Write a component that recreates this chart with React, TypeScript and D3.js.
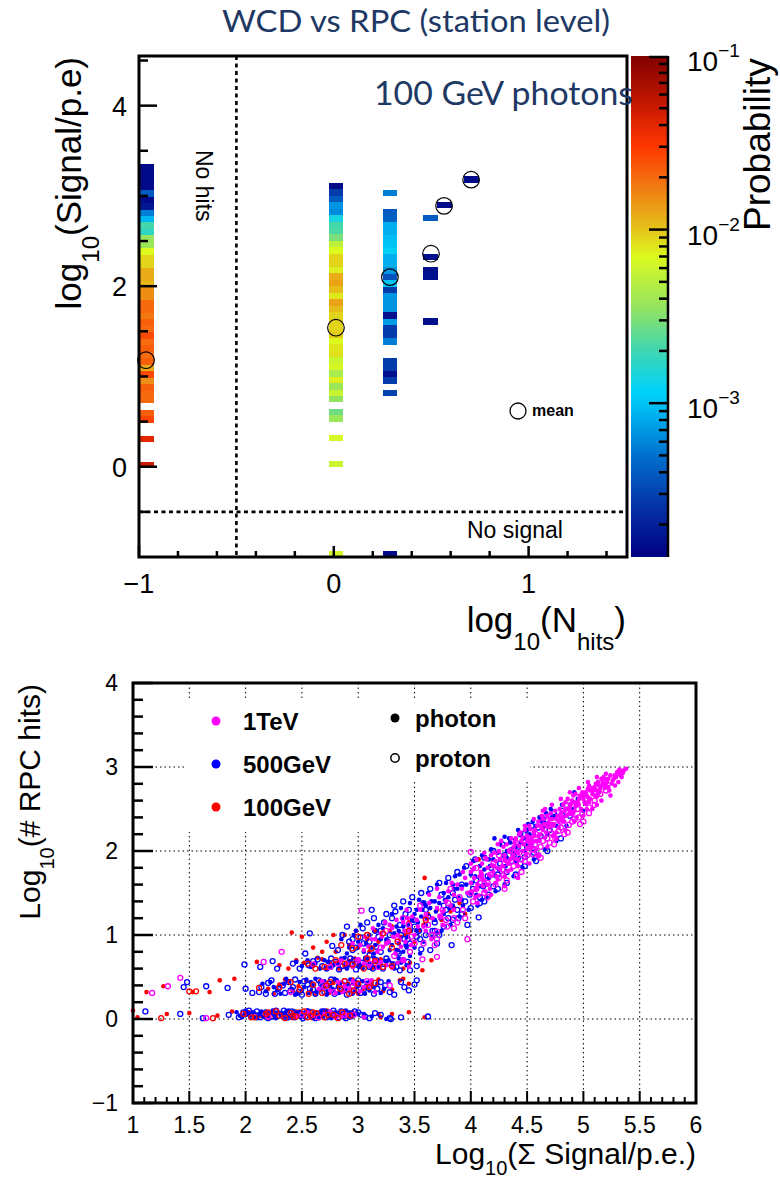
import React from "react";
import * as d3 from "d3";

// ================= TOP PANEL DATA (probability map) =================
const columnXs = [-0.962, 0.011, 0.288, 0.497, 0.568, 0.707];
const columnTops = [3.35, 3.146, 3.07, 2.79, 2.935, 3.22];
const colA = [1.5e-4, 1.5e-4, 1.5e-4, 1.5e-4, 4e-4, 1.5e-4, 1.8e-4, 5.6e-4, 9e-4, 2.1e-3, 1.75e-3, 3.6e-3, 3.8e-3, 7e-3, 9e-3, 9e-3, 1.2e-2, 1.2e-2, 1.1e-2, 1.5e-2, 1.5e-2, 2e-2, 2e-2, 1.8e-2, 2.2e-2, 2e-2, 2.6e-2, 2e-2, 2.2e-2, 2e-2, 2.2e-2, 1.2e-2, 2.6e-2, 1.5e-2, 2.2e-2, 2e-2, 2e-2, null, 2.2e-2, 2.7e-2, null, null, 4e-2, null, null, null, 5e-2];
const colB = [1.5e-4, 2.8e-4, 4e-4, 6.8e-4, 6.2e-4, 1.4e-3, 2.1e-3, 2.2e-3, 3e-3, 5.2e-3, 7e-3, 9e-3, 9e-3, 7.5e-3, 1.2e-2, 1.3e-2, 1.05e-2, 8e-3, 1.3e-2, 1.05e-2, 9e-3, 9e-3, 9e-3, 9.5e-3, 7e-3, 8e-3, 8.3e-3, 5.8e-3, 6.6e-3, 4.3e-3, 7.6e-3, 3.8e-3, 5.8e-3, 3.5e-3, null, 2.8e-3, 3.8e-3, null, null, 6.6e-3, null, null, null, 5.8e-3];
const colC = [5.6e-4, null, null, 4e-4, 4.2e-4, 8.3e-4, 8.3e-4, 9.5e-4, 1.0e-3, 1.2e-3, 8.3e-4, 8.3e-4, 6.8e-4, 3.7e-4, 1.0e-3, 2.8e-4, 6.8e-4, 6.8e-4, 6.8e-4, 1.6e-4, 7.3e-4, 2.8e-4, 2.8e-4, 5.6e-4, null, null, 2.8e-4, 2.8e-4, 1.6e-4, 2.8e-4, null, 3e-4];
const colD = [4e-4, null, null, null, null, null, 1.6e-4, null, 1.6e-4, 1.6e-4, null, null, null, null, null, null, 1.6e-4];
const colE = [1.5e-4];
const colF = [1.5e-4];
const columnProbs = [colA, colB, colC, colD, colE, colF];
const noSignalXs = [0.011, 0.288];
const noSignalProbs = [6.5e-3, 1.5e-4];
const noSignalTop = -0.934;
const meanXs = [-0.964, 0.011, 0.288, 0.499, 0.566, 0.705];
const meanYs = [1.18, 1.54, 2.1, 2.36, 2.89, 3.18];
const binWidth = 0.074;
const binHeight = 0.0716;
const probRange = [1.3e-4, 0.1];
const paletteStops = [0, 0.1, 0.2, 0.3, 0.33, 0.42, 0.5, 0.6, 0.66, 0.73, 0.82, 0.9, 1];
const paletteColors = ["rgb(0,0,130)", "rgb(5,50,165)", "rgb(0,110,205)", "rgb(0,190,245)", "rgb(0,210,250)", "rgb(70,215,170)", "rgb(150,228,95)", "rgb(220,250,30)", "rgb(230,190,25)", "rgb(240,130,20)", "rgb(255,55,0)", "rgb(200,25,0)", "rgb(130,0,0)"];
const topXTickLabels = ["\u22121", "0", "1"];
const topXMajor = [-1, 0, 1];
const topYTickLabels = ["0", "2", "4"];
const topYMajor = [0, 2, 4];
const cbarMajor = [1e-3, 1e-2, 1e-1];
const cbarExp = ["\u22123", "\u22122", "\u22121"];

// ================= BOTTOM PANEL DATA (scatter) =================
const tev1Photon = [[3.12,0.95],[3.2,1.02],[3.25,0.9],[3.3,1.08],[3.35,1.0],[3.4,1.15],[3.45,1.05],[3.48,1.22],[3.38,0.86],[3.28,1.12],
[3.52,1.18],[3.55,1.3],[3.58,1.1],[3.6,1.25],[3.63,1.38],[3.66,1.2],[3.7,1.32],[3.72,1.45],[3.75,1.28],[3.78,1.4],[3.8,1.52],[3.82,1.35],[3.85,1.48],[3.88,1.6],[3.9,1.42],[3.92,1.55],[3.95,1.68],[3.97,1.5],[3.6,1.05],[3.7,1.55],[3.85,1.3],[3.93,1.75],
[4.0,1.62],[4.02,1.78],[4.05,1.55],[4.08,1.7],[4.1,1.85],[4.12,1.65],[4.15,1.8],[4.18,1.95],[4.2,1.75],[4.22,1.88],[4.25,2.0],[4.28,1.82],[4.3,1.95],[4.32,2.08],[4.35,1.9],[4.38,2.05],[4.4,2.15],[4.42,1.98],[4.45,2.12],[4.48,2.25],[4.05,1.9],[4.15,1.6],[4.27,2.12],[4.36,1.78],[4.46,2.0],
[4.5,2.18],[4.52,2.3],[4.55,2.1],[4.57,2.25],[4.6,2.35],[4.62,2.2],[4.65,2.32],[4.68,2.42],[4.7,2.28],[4.72,2.38],[4.75,2.48],[4.78,2.35],[4.8,2.45],[4.82,2.55],[4.85,2.42],[4.88,2.52],[4.9,2.6],[4.92,2.48],[4.95,2.58],[4.97,2.66],[4.58,2.02],[4.66,2.5],[4.76,2.22],[4.86,2.62],[4.94,2.4],
[5.0,2.62],[5.02,2.7],[5.05,2.58],[5.08,2.68],[5.1,2.76],[5.12,2.65],[5.15,2.74],[5.17,2.82],[5.2,2.78],[5.22,2.86],[5.25,2.8],[5.28,2.9],[5.3,2.94],[5.33,2.9],[5.36,2.96],[5.05,2.78],[5.12,2.55],[5.18,2.88],
[4.03,1.68],[4.13,1.92],[4.23,1.7],[4.33,1.85],[4.43,2.2],[4.53,2.05],[4.63,2.42],[4.73,2.18],[4.83,2.35],[4.93,2.68],[5.03,2.5],[5.13,2.82],[5.23,2.72],[3.83,1.62],[3.73,1.22],[3.63,1.48],[3.53,1.1],[3.43,1.3],[3.65,0.95],[3.75,1.12],
[4.01,1.52],[4.03,1.8],[4.06,1.6],[4.07,1.47],[4.09,1.75],[4.11,1.58],[4.14,1.9],[4.16,1.72],[4.17,1.55],[4.19,1.83],[4.21,1.98],[4.23,1.8],[4.24,1.66],[4.26,1.9],[4.29,2.05],[4.31,1.88],[4.33,1.76],[4.34,2.0],[4.37,1.93],[4.39,2.1],[4.41,1.9],[4.43,2.06],[4.44,2.22],[4.47,2.08],[4.49,1.96],[4.51,2.14],[4.53,2.26],[4.54,2.04],[4.56,2.18],[4.59,2.3],[4.61,2.12],[4.63,2.27],[4.64,2.38],[4.67,2.22],[4.69,2.34],[4.71,2.45],[4.73,2.3],[4.74,2.2],[4.77,2.42],[4.79,2.5],[4.81,2.36],[4.83,2.47],[4.84,2.58],[4.87,2.44],[4.89,2.56],[4.91,2.66],[4.93,2.53],[4.96,2.62],[4.98,2.5],[4.99,2.7],[5.01,2.58],[5.03,2.66],[5.04,2.74],[5.06,2.62],[5.09,2.72],[5.11,2.8],[5.13,2.68],[5.14,2.78],[5.16,2.86],[5.19,2.75],[5.21,2.82],[5.24,2.9],[5.26,2.84],[5.29,2.88],[5.31,2.92],[5.34,2.94],
[4.0,1.75],[4.04,1.45],[4.1,1.68],[4.13,1.52],[4.18,1.7],[4.22,1.62],[4.26,1.78],[4.3,1.7],[4.34,1.85],[4.38,1.95],[4.42,1.82],[4.46,2.16],[4.5,2.02],[4.54,2.15],[4.58,2.12],[4.62,2.3],[4.66,2.16],[4.7,2.38],[4.74,2.32],[4.78,2.28],[4.82,2.4],[4.86,2.5],[4.9,2.45],[4.94,2.55],[4.98,2.65],[5.02,2.56],[5.06,2.72],[5.1,2.66],[5.14,2.7],[5.18,2.8],[5.22,2.76],[5.27,2.86],[5.32,2.97],[5.35,2.93],
[4.0,1.85],[4.06,1.38],[4.12,1.98],[4.18,1.48],[4.24,2.08],[4.3,1.58],[4.36,2.15],[4.42,1.68],[4.48,2.3],[4.52,1.85],[4.56,2.38],[4.6,1.95],[4.64,2.48],[4.68,2.05],[4.72,2.55],[4.76,2.15],[4.8,2.62],[4.84,2.25],[4.88,2.7],[4.92,2.35],[4.96,2.75],[5.0,2.42],[5.04,2.82],[5.08,2.5],[5.12,2.88],[5.16,2.6],[5.2,2.92],[5.24,2.66],[5.28,2.78],[5.31,2.82],[5.34,2.88],[5.38,2.98],
[4.52,2.1],[4.56,2.22],[4.6,2.18],[4.64,2.25],[4.68,2.3],[4.72,2.32],[4.76,2.38],[4.8,2.4],[4.84,2.5],[4.88,2.48],[4.92,2.58],[4.96,2.55],[5.0,2.68],[5.04,2.64],[5.08,2.75],[5.12,2.72],[5.16,2.78],[5.2,2.85],[4.1,1.72],[4.2,1.82],[4.3,1.9],[4.4,2.0],[4.5,2.12],
[3.02,0.88],[3.06,0.98],[3.09,0.86],[3.13,1.08],[3.17,0.8],[3.21,0.98],[3.24,1.15],[3.27,0.92],[3.31,0.98],[3.34,1.18],[3.37,0.95],[3.41,1.05],[3.44,1.2],[3.47,0.88],
[2.65,0.36],[2.72,0.42],[2.8,0.31],[2.88,0.39],[2.95,0.45],[3.02,0.33],[3.1,0.4],[2.75,0.34],[2.82,0.44],[2.86,0.32],[2.92,0.36],[2.98,0.42],[3.05,0.38],[3.12,0.46],[2.68,0.45],[3.15,0.32],
[2.9,0.66],[3.0,0.7],[3.1,0.63],[3.2,0.68],[3.3,0.61],[3.4,0.7],[2.95,0.62],[3.05,0.66],[3.15,0.7],[3.25,0.64],[3.35,0.67],[3.45,0.62],[2.85,0.7],
[2.95,0.9],[3.05,0.82],[3.15,0.95],[3.22,0.86],[3.33,0.78],[3.42,0.92],[3.5,1.0],[2.7,0.06],[2.85,0.03],[2.55,0.08],[2.6,0.04],[2.75,0.09],[2.9,0.05],[2.45,0.02],[3.05,0.02]];
const tev1Proton = [[1.17,0.31],[1.31,0.39],[1.42,0.49],[1.65,0.01],[2.16,0.68],[2.32,0.8],[2.5,0.05],[2.7,0.38],[2.85,0.42],[2.96,0.05],[3.03,1.29],[3.1,0.66],[3.2,0.85],[3.28,0.4],[3.35,0.95],[3.4,0.7],[3.45,1.12],[3.5,0.9],[3.57,0.71],[3.6,1.2],[3.65,1.0],[3.7,1.04],[3.7,0.74],[3.75,1.3],[3.79,1.1],[3.85,1.2],[3.9,1.45],[3.97,0.95],[4.0,1.99],[4.02,1.4],[4.08,1.62],[4.12,1.5],[4.18,1.72],[4.22,1.6],[4.29,1.71],[4.3,1.85],[4.35,2.0],[4.41,1.7],[4.45,1.9],[4.5,2.08],[4.55,1.96],[4.58,2.2],[4.62,2.05],[4.68,2.3],[4.72,2.21],[4.75,2.15],[4.8,2.35],[4.87,2.31],[4.9,2.45],[4.95,2.5],[4.99,2.44],[5.05,2.52],[5.1,2.6],[5.15,2.68],[5.2,2.72],[3.55,1.35],[3.82,1.55],[4.05,1.8],[4.25,1.95],[4.4,2.1],[4.65,2.4],[4.85,2.55],[3.4,1.2],[3.25,1.05],[3.0,0.7],[2.9,0.35],[2.75,0.62],[2.6,0.65],[2.4,0.32],[2.2,0.03],[2.8,0.03],
[4.05,1.55],[4.15,1.62],[4.2,1.85],[4.28,1.78],[4.32,1.65],[4.38,1.82],[4.43,1.98],[4.48,1.88],[4.52,2.15],[4.57,2.08],[4.6,1.95],[4.64,2.12],[4.7,2.1],[4.78,2.24],[4.83,2.2],[4.92,2.38],[4.97,2.32],[5.02,2.62],[3.62,1.12],[3.68,0.88],[3.73,1.22],[3.8,1.38],[3.88,1.15],[3.93,1.3],[3.47,0.98],[3.32,0.75],[3.18,0.62],[3.08,0.45],[2.95,0.38],[2.78,0.32],[2.82,0.66],[2.88,0.05],[2.65,0.02],
[4.5,1.95],[4.55,2.02],[4.62,1.92],[4.68,2.15],[4.74,2.08],[4.8,2.28],[4.86,2.22],[4.9,2.35],[4.96,2.4],[5.0,2.35],[5.05,2.45],[5.1,2.55],[4.25,1.68],[4.3,1.55],[4.15,1.45],[4.0,1.5],[3.95,1.2],[3.85,1.08],[3.78,1.18],[3.7,0.95],[3.58,0.9],[3.46,0.8],[4.4,1.88],[4.45,1.75]];
const gev500Photon = [[1.95,0.04],[2.02,0.07],[2.08,0.02],[2.12,0.06],[2.18,0.03],[2.22,0.08],[2.27,0.01],[2.31,0.05],[2.36,0.09],[2.4,0.03],[2.45,0.06],[2.49,0.02],[2.53,0.08],[2.57,0.04],[2.61,0.07],[2.65,0.01],[2.7,0.05],[2.74,0.09],[2.78,0.03],[2.83,0.06],[2.87,0.02],[2.92,0.08],[2.96,0.04],[3.05,0.06],[3.12,0.03],[3.25,0.0],
[1.92,0.08],[1.97,0.02],[2.0,0.1],[2.04,0.04],[2.07,0.08],[2.1,0.01],[2.14,0.09],[2.16,0.03],[2.2,0.06],[2.24,0.1],[2.26,0.04],[2.29,0.08],[2.33,0.02],[2.35,0.06],[2.38,0.1],[2.42,0.05],[2.44,0.01],[2.47,0.08],[2.51,0.04],[2.55,0.1],[2.59,0.02],[2.63,0.05],[2.67,0.09],[2.69,0.03],[2.72,0.06],[2.76,0.01],[2.8,0.08],[2.85,0.04],[2.89,0.1],[2.94,0.02],[2.99,0.06],
[2.15,0.42],[2.28,0.35],[2.38,0.45],[2.46,0.3],[2.52,0.38],[2.58,0.44],[2.63,0.32],[2.68,0.4],[2.72,0.29],[2.77,0.36],[2.81,0.46],[2.86,0.33],[2.9,0.41],[2.95,0.3],[2.99,0.38],[3.04,0.45],[3.1,0.34],[3.17,0.42],[3.23,0.36],
[2.18,0.33],[2.22,0.44],[2.25,0.38],[2.31,0.3],[2.34,0.42],[2.36,0.48],[2.41,0.36],[2.44,0.29],[2.48,0.44],[2.5,0.34],[2.54,0.47],[2.56,0.31],[2.6,0.4],[2.62,0.48],[2.66,0.35],[2.7,0.45],[2.73,0.33],[2.75,0.4],[2.79,0.48],[2.83,0.31],[2.84,0.43],[2.88,0.36],[2.93,0.47],[2.97,0.33],[3.01,0.4],[3.06,0.3],[3.08,0.43],[3.13,0.38],[3.2,0.31],[3.27,0.45],
[2.45,0.68],[2.58,0.62],[2.7,0.7],[2.78,0.64],[2.85,0.72],[2.9,0.6],[2.96,0.67],[3.02,0.63],[3.07,0.71],[3.12,0.66],[3.18,0.61],[3.24,0.69],[3.3,0.65],[3.36,0.72],
[2.5,0.63],[2.55,0.7],[2.62,0.66],[2.66,0.6],[2.73,0.68],[2.76,0.61],[2.82,0.66],[2.88,0.73],[2.92,0.64],[2.99,0.7],[3.04,0.6],[3.09,0.65],[3.14,0.73],[3.2,0.65],[3.27,0.7],[3.32,0.6],[3.38,0.67],[3.43,0.64],
[2.92,0.85],[3.0,0.92],[3.05,0.8],[3.1,1.0],[3.15,0.88],[3.2,0.95],[3.22,1.08],[3.28,0.82],[3.32,1.02],[3.36,0.9],[3.4,1.1],[3.44,0.98],[3.48,1.18],[2.98,1.05],[3.14,0.78],
[2.85,0.95],[2.9,0.78],[2.96,1.0],[3.02,1.12],[3.07,0.9],[3.12,0.85],[3.18,1.12],[3.25,0.95],[3.3,0.88],[3.34,1.1],[3.39,1.2],[3.43,0.85],[3.47,1.05],[3.5,1.25],
[3.52,1.05],[3.56,1.22],[3.6,1.12],[3.64,1.32],[3.68,1.18],[3.72,1.38],[3.76,1.25],[3.8,1.45],[3.84,1.35],[3.88,1.55],[3.92,1.42],[3.96,1.6],[4.0,1.5],[4.04,1.7],[4.08,1.58],[4.12,1.78],[4.16,1.68],[4.2,1.9],[4.21,2.15],[4.25,1.78],[4.3,2.17],[4.32,1.92],[4.36,2.02],[4.4,1.88],[4.44,2.1],[4.48,2.0],[4.52,2.2],[4.55,2.35],[4.6,2.12],[4.64,2.28],[4.68,2.2],[4.72,2.4],[4.76,2.3],[4.81,2.55],[4.84,2.42],[4.9,2.5],[4.95,2.62],[3.7,1.02],[3.9,1.72],[4.1,1.42],[3.58,1.38],
[3.53,1.15],[3.57,1.3],[3.61,1.2],[3.65,1.4],[3.69,1.28],[3.73,1.2],[3.77,1.42],[3.81,1.32],[3.85,1.55],[3.89,1.45],[3.93,1.35],[3.97,1.5],[4.01,1.62],[4.05,1.48],[4.09,1.75],[4.13,1.6],[4.17,1.82],[4.22,1.7],[4.26,1.9],[4.31,1.82],[4.35,2.1],[4.39,1.98],[4.43,1.92],[4.47,2.15],[4.5,2.25],[4.54,2.08],[4.58,2.3],[4.63,2.35],[4.67,2.45],[4.75,2.42],[4.8,2.38],[4.88,2.55],
[3.3,1.25],[3.34,0.82],[3.38,1.32],[3.42,0.88],[3.46,1.38],[3.5,0.85],[3.54,1.42],[3.58,0.92],[3.62,1.5],[3.66,0.98],[3.7,1.6],[3.74,1.05],[3.78,1.62],[3.82,1.12],[3.86,1.7],[3.9,1.22],[3.94,1.8],[3.98,1.3],[4.02,1.88],[4.06,1.35],[4.1,1.95],[4.14,1.45],[4.18,2.02],[4.22,1.52],[4.26,2.08],[4.3,1.6],[4.34,2.15],[4.38,1.7],[4.42,2.25],[4.46,1.8],[4.51,2.32],[4.56,1.9],[4.61,2.4],[4.66,2.02],[4.71,2.5],[4.76,2.12],[4.85,2.3],[4.92,2.7],[5.0,2.48],
[3.36,1.05],[3.44,1.12],[3.52,1.3],[3.6,1.35],[3.68,1.4],[3.76,1.5],[3.84,1.6],[3.92,1.58],[4.0,1.72],[4.08,1.82],[4.16,1.9],[4.24,1.98],[4.32,2.0],[4.4,2.05],[4.48,2.08],[4.56,2.2],[3.4,0.8],[3.46,0.75],[3.55,0.78]];
const gev500Proton = [[1.11,0.09],[1.42,0.06],[1.62,0.01],[1.85,0.05],[1.98,0.08],[2.05,0.03],[2.1,0.09],[2.16,0.05],[2.2,0.01],[2.25,0.07],[2.29,0.04],[2.34,0.1],[2.38,0.02],[2.43,0.08],[2.47,0.05],[2.51,0.01],[2.55,0.09],[2.6,0.03],[2.64,0.06],[2.68,0.09],[2.72,0.02],[2.76,0.07],[2.8,0.04],[2.85,0.09],[2.89,0.01],[2.94,0.06],[3.0,0.08],[3.06,0.03],[3.15,0.07],[3.28,0.01],
[1.94,0.02],[2.0,0.06],[2.03,0.1],[2.08,0.05],[2.13,0.02],[2.18,0.08],[2.23,0.03],[2.27,0.1],[2.32,0.06],[2.36,0.02],[2.41,0.09],[2.45,0.04],[2.49,0.07],[2.53,0.03],[2.58,0.08],[2.62,0.01],[2.66,0.05],[2.7,0.09],[2.74,0.04],[2.78,0.1],[2.83,0.02],[2.87,0.06],[2.92,0.03],[2.97,0.09],[3.03,0.05],[3.1,0.01],[3.2,0.05],[3.38,0.02],[3.62,0.03],
[1.45,0.38],[1.48,0.44],[1.65,0.39],[1.84,0.37],[2.0,0.36],[2.06,0.31],[2.12,0.32],[2.2,0.43],[2.26,0.3],[2.33,0.4],[2.4,0.34],[2.44,0.47],[2.5,0.29],[2.55,0.41],[2.6,0.35],[2.65,0.46],[2.7,0.32],[2.74,0.42],[2.79,0.3],[2.83,0.39],[2.88,0.45],[2.92,0.35],[2.97,0.43],[3.02,0.31],[3.08,0.4],[3.14,0.3],[3.2,0.44],[3.32,0.29],[3.5,0.41],
[2.14,0.38],[2.18,0.3],[2.23,0.46],[2.29,0.36],[2.35,0.31],[2.38,0.44],[2.42,0.38],[2.47,0.32],[2.52,0.45],[2.57,0.36],[2.62,0.3],[2.67,0.42],[2.72,0.37],[2.76,0.47],[2.81,0.34],[2.86,0.41],[2.9,0.29],[2.95,0.39],[3.0,0.46],[3.05,0.35],[3.11,0.44],[3.17,0.36],[3.24,0.4],[3.28,0.32],[3.38,0.44],[3.45,0.34],
[1.99,0.65],[2.13,0.62],[2.24,0.69],[2.28,0.6],[2.56,0.64],[2.64,0.71],[2.72,0.6],[2.8,0.68],[2.86,0.63],[2.93,0.72],[2.98,0.59],[3.04,0.67],[3.1,0.62],[3.16,0.7],[3.22,0.6],[3.28,0.66],[3.34,0.62],[3.4,0.7],[3.46,0.58],
[2.42,0.66],[2.48,0.6],[2.6,0.69],[2.68,0.63],[2.76,0.72],[2.83,0.59],[2.9,0.66],[2.96,0.7],[3.01,0.63],[3.07,0.72],[3.13,0.6],[3.19,0.66],[3.25,0.72],[3.31,0.65],[3.37,0.58],[3.44,0.68],[3.52,0.63],
[2.57,1.02],[2.53,0.78],[2.77,0.87],[2.9,1.1],[2.95,0.82],[3.02,0.97],[3.08,1.15],[3.12,1.3],[3.16,0.86],[3.2,1.05],[3.26,0.92],[3.3,1.2],[3.35,0.8],[3.38,1.0],[3.42,1.25],[3.46,0.9],[3.5,1.1],[3.55,0.95],[3.6,1.3],[3.64,0.82],[3.52,0.46],[3.41,0.38],[3.68,1.15],[3.72,1.0],[3.76,1.35],[3.8,1.2],[3.84,1.5],[3.88,1.3],[3.95,1.4],[4.02,1.55],[4.08,1.45],[4.15,1.7],[4.2,1.58],[4.26,1.85],[4.32,1.75],[4.38,1.95],[4.44,1.85],[4.5,2.05],[4.56,1.98],[4.62,2.18],[4.7,2.25],[4.78,2.38],[3.7,0.9],[3.83,0.88],[3.97,1.12],[3.56,0.83],[4.07,1.21],[4.12,1.4],[3.89,1.2],[4.48,1.93],[3.29,0.0],
[2.82,0.82],[2.86,1.0],[2.92,0.92],[2.98,0.85],[3.04,1.08],[3.1,0.92],[3.14,1.2],[3.18,0.98],[3.23,1.15],[3.28,1.0],[3.33,1.28],[3.37,1.12],[3.41,0.95],[3.45,1.3],[3.49,1.18],[3.54,1.05],[3.58,1.38],[3.62,1.22],[3.66,1.05],[3.74,1.48],[3.78,1.3],[3.86,1.42],[3.92,1.6],[3.99,1.48],[4.05,1.65],[4.11,1.58],[4.18,1.8],[4.24,1.72],[4.3,1.95],[4.36,1.88],[4.42,2.05],[4.47,2.2],[4.53,2.12],[4.6,2.28],[4.66,2.32],[4.74,2.46],[4.82,2.48],
[3.32,1.35],[3.36,0.78],[3.4,1.4],[3.44,0.95],[3.48,1.45],[3.52,0.98],[3.56,1.5],[3.6,1.0],[3.64,1.55],[3.68,1.05],[3.72,1.62],[3.76,1.1],[3.8,1.68],[3.84,1.18],[3.88,1.75],[3.92,1.25],[3.96,1.82],[4.0,1.32],[4.04,1.9],[4.08,1.38],[4.12,1.92],[4.16,1.48],[4.2,2.0],[4.24,1.55],[4.28,2.08],[4.32,1.62],[4.36,2.12],[4.4,1.72],[4.44,2.2],[4.48,1.82],[4.54,2.3],[4.58,1.88],[4.64,2.38],[4.68,2.0],[4.8,2.15],[4.88,2.42],[3.25,1.25],[3.15,1.05],[3.05,0.9],[2.95,0.95],[3.1,0.76],[3.2,0.8]];
const gev100Photon = [[1.0,0.1],[1.04,0.02],[1.12,0.32],[1.27,0.39],[1.3,0.06],[1.5,0.07],[1.53,0.32],[1.68,0.32],[1.77,0.46],[1.9,0.48],[1.75,0.04],[1.88,0.09],[2.1,0.68],[2.41,1.03],[2.5,0.98],[3.46,0.67],[3.4,0.48],[3.59,0.02],[3.18,0.06],[3.2,0.02],[3.59,1.68],[4.07,1.9],[3.37,0.46],
[2.0,0.05],[2.1,0.02],[2.18,0.08],[2.25,0.04],[2.33,0.06],[2.42,0.01],[2.48,0.09],[2.56,0.05],[2.62,0.02],[2.69,0.08],[2.75,0.04],[2.82,0.07],[2.9,0.03],
[2.03,0.08],[2.13,0.04],[2.21,0.01],[2.28,0.07],[2.36,0.03],[2.45,0.09],[2.52,0.04],[2.59,0.01],[2.66,0.06],[2.72,0.1],[2.79,0.02],[2.86,0.05],[2.95,0.08],[3.05,0.04],[3.3,0.06],[3.45,0.08],
[2.2,0.36],[2.3,0.41],[2.42,0.33],[2.54,0.45],[2.62,0.3],[2.7,0.38],[2.78,0.43],[2.87,0.34],[2.95,0.47],[3.05,0.36],[3.12,0.44],[3.22,0.33],
[2.25,0.3],[2.35,0.47],[2.47,0.39],[2.58,0.33],[2.66,0.45],[2.74,0.31],[2.82,0.38],[2.91,0.42],[3.0,0.3],[3.08,0.38],[3.18,0.47],[3.3,0.35],[3.45,0.42],
[2.3,0.64],[2.45,0.7],[2.6,0.63],[2.68,0.71],[2.75,0.66],[2.83,0.6],[2.92,0.69],[3.0,0.64],[3.08,0.72],[3.15,0.62],[3.25,0.68],
[2.38,0.6],[2.52,0.67],[2.64,0.73],[2.72,0.6],[2.8,0.67],[2.88,0.62],[2.97,0.72],[3.05,0.66],[3.12,0.6],[3.2,0.71],[3.3,0.66],[3.4,0.6],
[2.6,0.85],[2.72,0.92],[2.8,0.8],[2.88,1.0],[3.0,0.85],[3.08,0.95],[3.15,1.05],[3.25,0.9],[3.3,1.1],[3.38,0.98],[3.45,1.15],[3.55,1.05],[3.62,1.25],[3.7,1.3],[3.78,1.4],[3.85,1.32],[3.65,0.7],[3.57,0.58],
[2.68,0.8],[2.78,1.0],[2.92,0.88],[2.98,1.05],[3.1,0.8],[3.18,0.92],[3.28,1.05],[3.35,0.82],[3.42,1.0],[3.5,0.92],[3.58,1.12],[3.66,1.2],[3.74,1.18],[3.82,1.28],[3.9,1.38],[3.95,1.25]];
const gev100Proton = [[1.25,0.01],[1.5,0.33],[1.56,0.33],[1.71,0.01],[1.98,0.06],[2.05,0.02],[2.12,0.37],[2.2,0.08],[2.3,0.04],[2.35,0.01],[2.4,0.07],[2.45,0.03],[2.48,0.35],[2.52,0.09],[2.58,0.04],[2.63,0.07],[2.7,0.02],[2.78,0.05],[2.86,0.08],[2.6,0.41],[2.68,0.31],[2.75,0.44],[2.84,0.36],[2.92,0.3],[3.0,0.42],[3.1,0.38],[2.55,0.66],[2.7,0.62],[2.8,0.7],[2.95,0.65],[3.05,0.6],[3.15,0.69],[3.3,0.63],[2.85,0.88],[3.0,0.98],[3.12,0.84],[3.22,1.02],[3.35,0.92],[3.45,1.05],[3.6,1.18],
[2.08,0.02],[2.18,0.06],[2.27,0.09],[2.42,0.04],[2.55,0.02],[2.6,0.08],[2.73,0.05],[2.82,0.01],[2.93,0.04],[2.3,0.38],[2.4,0.44],[2.56,0.3],[2.72,0.4],[2.88,0.45],[2.96,0.34],[3.15,0.43],[2.62,0.6],[2.88,0.66],[3.08,0.72],[3.22,0.62],[2.95,0.84],[3.08,1.0],[3.3,0.85]];
const energyLabels = ["1TeV", "500GeV", "100GeV"];
const energyColors = ["#ff00ff", "#0000ff", "#ff0000"];
const bottomXTickLabels = ["1", "1.5", "2", "2.5", "3", "3.5", "4", "4.5", "5", "5.5", "6"];
const bottomYTickLabels = ["\u22121", "0", "1", "2", "3", "4"];

const FONT = "'Liberation Sans', Arial, Helvetica, sans-serif";
const TITLE_FONT = "Lato, 'Open Sans', sans-serif";
const TITLE_COLOR = "#203864";

export default function App() {
  const tx = d3.scaleLinear().domain([-1, 1.5]).range([139, 626]);
  const ty = d3.scaleLinear().domain([-1, 4.55]).range([557, 56]);
  const pNorm = d3.scaleLog().domain(probRange).range([0, 1]).clamp(true);
  const palette = d3.scaleLinear<string>().domain(paletteStops).range(paletteColors).interpolate(d3.interpolateRgb);
  const colorOf = (p: number) => palette(pNorm(p));
  const cbY = d3.scaleLog().domain(probRange).range([557, 56]);

  const cells: any[] = [];
  columnProbs.forEach((probs, ci) => {
    const cx = columnXs[ci];
    probs.forEach((p, k) => {
      if (p == null) return;
      const yTop = Math.round(ty(columnTops[ci] - k * binHeight));
      const yBot = Math.round(ty(columnTops[ci] - (k + 1) * binHeight));
      cells.push({ x: tx(cx - binWidth / 2), w: tx(cx + binWidth / 2) - tx(cx - binWidth / 2), y: yTop, h: yBot - yTop, c: colorOf(p) });
    });
  });
  noSignalXs.forEach((cx, i) => {
    const yTop = Math.round(ty(noSignalTop));
    cells.push({ x: tx(cx - binWidth / 2), w: tx(cx + binWidth / 2) - tx(cx - binWidth / 2), y: yTop, h: Math.round(ty(-1)) - yTop, c: colorOf(noSignalProbs[i]) });
  });

  const topXTicks = d3.range(0, 13).map((i) => -1 + i * 0.2);
  const topYTicks = d3.range(0, 11).map((i) => -0.5 + i * 0.5);
  const cbMinor: number[] = [];
  [1e-4, 1e-3, 1e-2].forEach((dec) => {
    for (let m = 2; m <= 9; m++) {
      const v = dec * m;
      if (v >= probRange[0] && v <= probRange[1]) cbMinor.push(v);
    }
  });

  const bx = d3.scaleLinear().domain([1, 6]).range([133, 696]);
  const by = d3.scaleLinear().domain([-1, 4]).range([1103, 683]);
  const bxMinor = d3.range(0, 51).map((i) => 1 + i * 0.1);
  const byMinor = d3.range(0, 26).map((i) => -1 + i * 0.2);
  const gridX = d3.range(1, 10).map((i) => 1 + i * 0.5);
  const gridY = [0, 1, 2, 3];

  // draw order: 100 GeV photons underneath, 500 GeV, 1 TeV, then 100 GeV protons on top
  const series = [
    { pts: gev100Photon, color: energyColors[2], filled: true },
    { pts: gev500Photon, color: energyColors[1], filled: true },
    { pts: gev500Proton, color: energyColors[1], filled: false },
    { pts: tev1Photon, color: energyColors[0], filled: true },
    { pts: tev1Proton, color: energyColors[0], filled: false },
    { pts: gev100Proton, color: energyColors[2], filled: false },
  ];

  return (
    <svg width={780} height={1179} style={{ position: "absolute", left: 0, top: 0, background: "#fff" }} fontFamily={FONT}>
      <defs>
        <linearGradient id="cbar" x1="0" y1="1" x2="0" y2="0">
          {paletteStops.map((s, i) => (
            <stop key={i} offset={s} stopColor={paletteColors[i]} />
          ))}
        </linearGradient>
      </defs>
      <rect x={0} y={0} width={780} height={1179} fill="#fff" />

      {/* ================= TOP PANEL ================= */}
      <text x={222} y={32} fontFamily={TITLE_FONT} fontSize={31} fill={TITLE_COLOR} textLength={388} lengthAdjust="spacingAndGlyphs">WCD vs RPC (station level)</text>

      {cells.map((c, i) => (
        <rect key={i} x={c.x} y={c.y} width={c.w} height={c.h} fill={c.c} shapeRendering="crispEdges" />
      ))}

      <line x1={tx(-0.5)} x2={tx(-0.5)} y1={ty(4.55)} y2={ty(-1)} stroke="#000" strokeWidth={2.6} strokeDasharray="4,3.5" />
      <line x1={tx(-1)} x2={tx(1.5)} y1={ty(-0.5)} y2={ty(-0.5)} stroke="#000" strokeWidth={2.6} strokeDasharray="4,3.5" />

      {meanXs.map((mx, i) => (
        <circle key={i} cx={tx(mx)} cy={ty(meanYs[i])} r={8.3} fill="none" stroke="#000" strokeWidth={1.2} />
      ))}

      <rect x={139} y={56} width={488} height={501} fill="none" stroke="#000" strokeWidth={3} />
      {topYTicks.map((v, i) => {
        const major = topYMajor.includes(Math.round(v * 10) / 10);
        return <line key={i} x1={139} x2={139 + (major ? 18 : 9)} y1={ty(v)} y2={ty(v)} stroke="#000" strokeWidth={2.5} />;
      })}
      {topXTicks.map((v, i) => {
        const major = topXMajor.includes(Math.round(v * 10) / 10);
        return <line key={i} x1={tx(v)} x2={tx(v)} y1={557} y2={557 - (major ? 11 : 6)} stroke="#000" strokeWidth={2.5} />;
      })}
      {topYMajor.map((v, i) => (
        <text key={i} x={127} y={ty(v) + 10} fontSize={27} textAnchor="end">{topYTickLabels[i]}</text>
      ))}
      {topXMajor.map((v, i) => (
        <text key={i} x={tx(v)} y={593} fontSize={27} textAnchor="middle">{topXTickLabels[i]}</text>
      ))}

      <text transform={`translate(81,57) rotate(-90)`} fontSize={35} textAnchor="end">
        log<tspan fontSize={24} dy={18}>10</tspan><tspan dy={-18}>(Signal/p.e)</tspan>
      </text>
      <text x={626} y={632} fontSize={35} textAnchor="end">
        log<tspan fontSize={24} dy={18}>10</tspan><tspan dy={-18}>(N</tspan><tspan fontSize={24} dy={18}>hits</tspan><tspan dy={-18}>)</tspan>
      </text>

      <text transform={`translate(196,150) rotate(90)`} fontSize={23}>No hits</text>
      <text x={467} y={538} fontSize={23}>No signal</text>

      <circle cx={518} cy={411} r={8} fill="none" stroke="#000" strokeWidth={1.3} />
      <text x={532} y={416} fontSize={16} fontWeight="bold">mean</text>

      <rect x={631} y={56} width={37} height={501} fill="url(#cbar)" />
      <line x1={668} x2={668} y1={56} y2={557} stroke="#000" strokeWidth={2.5} />
      {cbMinor.map((v, i) => (
        <line key={i} x1={668} x2={659} y1={cbY(v)} y2={cbY(v)} stroke="#000" strokeWidth={2.5} />
      ))}
      {cbarMajor.map((v, i) => (
        <g key={i}>
          <line x1={668} x2={649} y1={Math.max(cbY(v), 57)} y2={Math.max(cbY(v), 57)} stroke="#000" strokeWidth={2.5} />
          <text x={687} y={Math.max(cbY(v), 56) + 15} fontSize={28}>
            10<tspan fontSize={19} dy={-14}>{cbarExp[i]}</tspan>
          </text>
        </g>
      ))}
      <text transform={`translate(770,231) rotate(-90)`} fontSize={37}>Probability</text>

      <text x={374} y={105} fontFamily={TITLE_FONT} fontSize={32} fill={TITLE_COLOR} textLength={259} lengthAdjust="spacingAndGlyphs">100 GeV photons</text>

      {/* ================= BOTTOM PANEL ================= */}
      {gridX.map((v, i) => (
        <line key={i} x1={bx(v)} x2={bx(v)} y1={683} y2={1103} stroke="#000" strokeWidth={1} strokeDasharray="1.5,3" />
      ))}
      {gridY.map((v, i) => (
        <line key={i} x1={133} x2={696} y1={by(v)} y2={by(v)} stroke="#000" strokeWidth={1} strokeDasharray="1.5,3" />
      ))}
      <rect x={187} y={698} width={177} height={134} fill="#fff" />
      <rect x={364} y={698} width={166} height={84} fill="#fff" />

      {series.map((s, si) => (
        <g key={si}>
          {s.pts.map((p, i) =>
            s.filled ? (
              <circle key={i} cx={bx(p[0])} cy={by(p[1])} r={2.3} fill={s.color} />
            ) : (
              <circle key={i} cx={bx(p[0])} cy={by(p[1])} r={2.5} fill="none" stroke={s.color} strokeWidth={1.3} />
            )
          )}
        </g>
      ))}

      <rect x={133} y={683} width={563} height={420} fill="none" stroke="#000" strokeWidth={3} />
      {byMinor.map((v, i) => {
        const major = Math.abs(v - Math.round(v)) < 1e-6;
        return <line key={i} x1={133} x2={133 + (major ? 20 : 10)} y1={by(v)} y2={by(v)} stroke="#000" strokeWidth={2.5} />;
      })}
      {bxMinor.map((v, i) => {
        const major = Math.abs(v * 2 - Math.round(v * 2)) < 1e-6;
        return <line key={i} x1={bx(v)} x2={bx(v)} y1={1103} y2={1103 - (major ? 12 : 6)} stroke="#000" strokeWidth={2} />;
      })}
      {bottomYTickLabels.map((l, i) => (
        <text key={i} x={118} y={by(i - 1) + 8} fontSize={23} textAnchor="end">{l}</text>
      ))}
      {bottomXTickLabels.map((l, i) => (
        <text key={i} x={bx(1 + i * 0.5)} y={1133} fontSize={23} textAnchor="middle">{l}</text>
      ))}
      <text transform={`translate(40,684) rotate(-90)`} fontSize={30} textAnchor="end">
        Log<tspan fontSize={20} dy={14}>10</tspan><tspan dy={-14}>(# RPC hits)</tspan>
      </text>
      <text x={696} y={1164} fontSize={30} textAnchor="end">
        Log<tspan fontSize={20} dy={11}>10</tspan><tspan dy={-11}>({"\u03A3"} Signal/p.e.)</tspan>
      </text>

      {energyLabels.map((l, i) => (
        <g key={i}>
          <circle cx={216} cy={721 + i * 43} r={4.5} fill={energyColors[i]} />
          <text x={243} y={730 + i * 43} fontSize={24} fontWeight="bold">{l}</text>
        </g>
      ))}
      <circle cx={395} cy={718} r={4.5} fill="#000" />
      <text x={415} y={727} fontSize={24} fontWeight="bold">photon</text>
      <circle cx={395} cy={758} r={4.2} fill="none" stroke="#000" strokeWidth={1.5} />
      <text x={415} y={767} fontSize={24} fontWeight="bold">proton</text>
    </svg>
  );
}
